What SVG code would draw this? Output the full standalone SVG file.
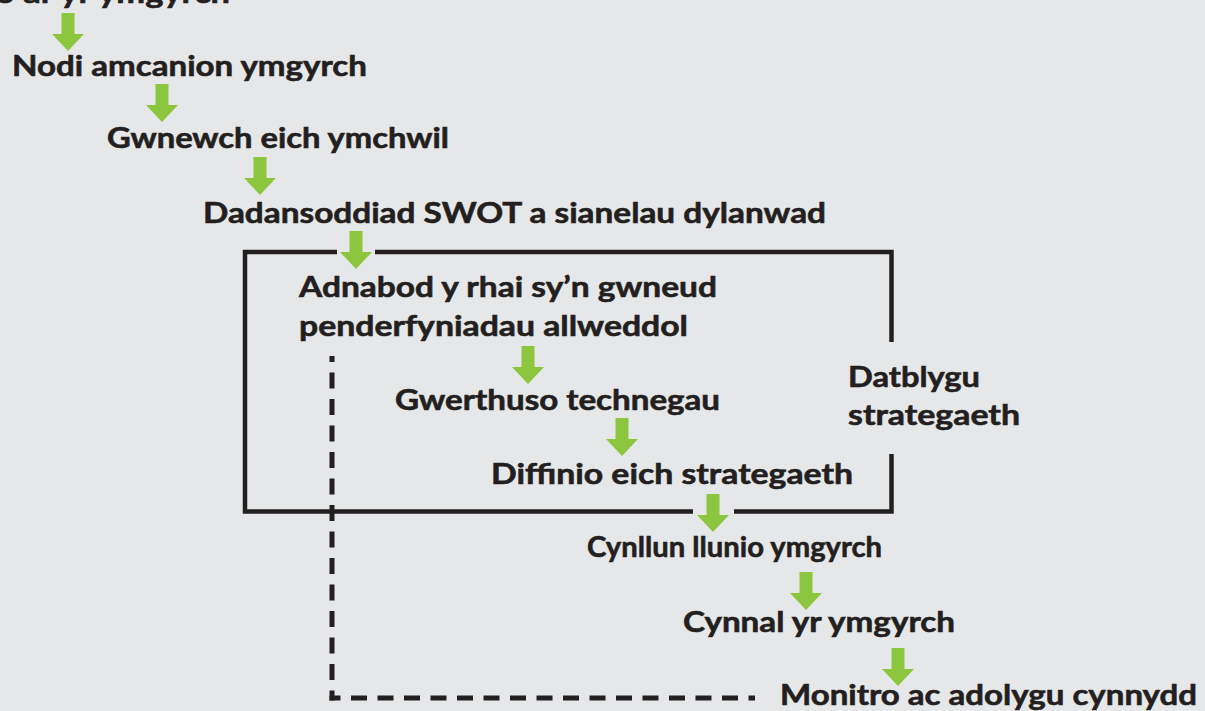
<svg xmlns="http://www.w3.org/2000/svg" width="1205" height="711" viewBox="0 0 1205 711">
<defs>
<style>
.t{font-family:Lato,"Open Sans","Liberation Sans",sans-serif;font-weight:700;font-size:29px;fill:#231f20;stroke:#231f20;stroke-width:0.6}
.arr{fill:#8cc63f}
.box{fill:none;stroke:#231f20;stroke-width:4.5}
.dash{fill:none;stroke:#231f20;stroke-width:5;stroke-dasharray:16 10.5}
</style>
<path id="a" d="M-6.5,0 H6.5 V21 H16 L0,38 L-16,21 H-6.5 Z"/>
</defs>
<rect width="1205" height="711" fill="#e6e7e8"/>
<g id="connectors">
<path class="box" d="M337,252 H245 V511.5 H693 M734,511.5 H891.5 V454 M891.5,342 V252 H375"/>
<path class="dash" d="M332,700.5 V356" stroke-dashoffset="6"/>
<path class="dash" d="M329.5,698 H755" stroke-dashoffset="5"/>
<use href="#a" class="arr" x="68" y="13"/>
<use href="#a" class="arr" x="162" y="84"/>
<use href="#a" class="arr" x="260" y="157"/>
<use href="#a" class="arr" x="356" y="231"/>
<use href="#a" class="arr" x="528" y="346"/>
<use href="#a" class="arr" x="622" y="418"/>
<use href="#a" class="arr" x="713" y="494"/>
<use href="#a" class="arr" x="806" y="572"/>
<use href="#a" class="arr" x="898" y="648"/>
</g>
<g id="n0"><text class="t" x="-5" y="3" textLength="235" lengthAdjust="spacingAndGlyphs">o ar yr ymgyrch</text></g>
<g id="n1"><text class="t" x="12" y="76" textLength="355" lengthAdjust="spacingAndGlyphs">Nodi amcanion ymgyrch</text></g>
<g id="n2"><text class="t" x="107" y="148" textLength="342" lengthAdjust="spacingAndGlyphs">Gwnewch eich ymchwil</text></g>
<g id="n3"><text class="t" x="203" y="223" textLength="623" lengthAdjust="spacingAndGlyphs">Dadansoddiad SWOT a sianelau dylanwad</text></g>
<g id="n4"><text class="t" x="299" y="297" textLength="418" lengthAdjust="spacingAndGlyphs">Adnabod y rhai sy’n gwneud</text><text class="t" x="299" y="336" textLength="389" lengthAdjust="spacingAndGlyphs">penderfyniadau allweddol</text></g>
<g id="n5"><text class="t" x="395" y="410" textLength="325" lengthAdjust="spacingAndGlyphs">Gwerthuso technegau</text></g>
<g id="n6"><text class="t" x="491" y="484" textLength="362" lengthAdjust="spacingAndGlyphs">Diffinio eich strategaeth</text></g>
<g id="n7"><text class="t" x="587" y="557" textLength="295" lengthAdjust="spacingAndGlyphs">Cynllun llunio ymgyrch</text></g>
<g id="n8"><text class="t" x="683" y="632" textLength="272" lengthAdjust="spacingAndGlyphs">Cynnal yr ymgyrch</text></g>
<g id="n9"><text class="t" x="780" y="705" textLength="417" lengthAdjust="spacingAndGlyphs">Monitro ac adolygu cynnydd</text></g>
<g id="group"><text class="t" x="848" y="387" textLength="132" lengthAdjust="spacingAndGlyphs">Datblygu</text><text class="t" x="848" y="425" textLength="172" lengthAdjust="spacingAndGlyphs">strategaeth</text></g>
</svg>
